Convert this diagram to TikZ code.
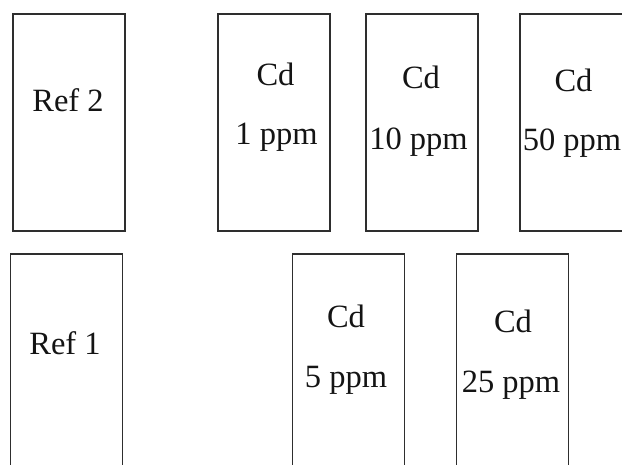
\documentclass[tikz,border=0pt]{standalone}
\usepackage{fontspec}
\setmainfont{Liberation Serif}
\begin{document}
\begin{tikzpicture}[x=1pt,y=-1pt,
  sample/.style={draw=black!82,line width=1.6pt,minimum width=112pt,minimum height=217pt,inner sep=0pt,anchor=north west},
  lbl/.style={anchor=base,inner sep=0pt,font=\fontsize{32.5}{38}\selectfont,text=black!92}]
\clip (0,0) rectangle (622,465);
\fill[white] (0,0) rectangle (622,465);
% top row
\node[sample] (r2) at (12,13) {};
\node[sample] (c1) at (217,13) {};
\node[sample] (c10) at (365,13) {};
\node[sample] (c50) at (519,13) {};
% bottom row
\node[sample] (r1) at (9.5,253) {};
\node[sample] (c5) at (291.5,253) {};
\node[sample] (c25) at (455.5,253) {};
% labels
\node[lbl] (tr2) at (68,112) {Ref 2};
\node[lbl] (tc1a) at (275.5,86) {Cd};
\node[lbl] (tc1b) at (276.5,145) {1 ppm};
\node[lbl] (tc10a) at (421,89) {Cd};
\node[lbl] (tc10b) at (418.5,150) {10 ppm};
\node[lbl] (tc50a) at (573.5,91.5) {Cd};
\node[lbl] (tc50b) at (572,151) {50 ppm};
\node[lbl] (tr1) at (65,355) {Ref 1};
\node[lbl] (tc5a) at (346,328) {Cd};
\node[lbl] (tc5b) at (346,388) {5 ppm};
\node[lbl] (tc25a) at (513,333) {Cd};
\node[lbl] (tc25b) at (511,393) {25 ppm};
\end{tikzpicture}
\end{document}
